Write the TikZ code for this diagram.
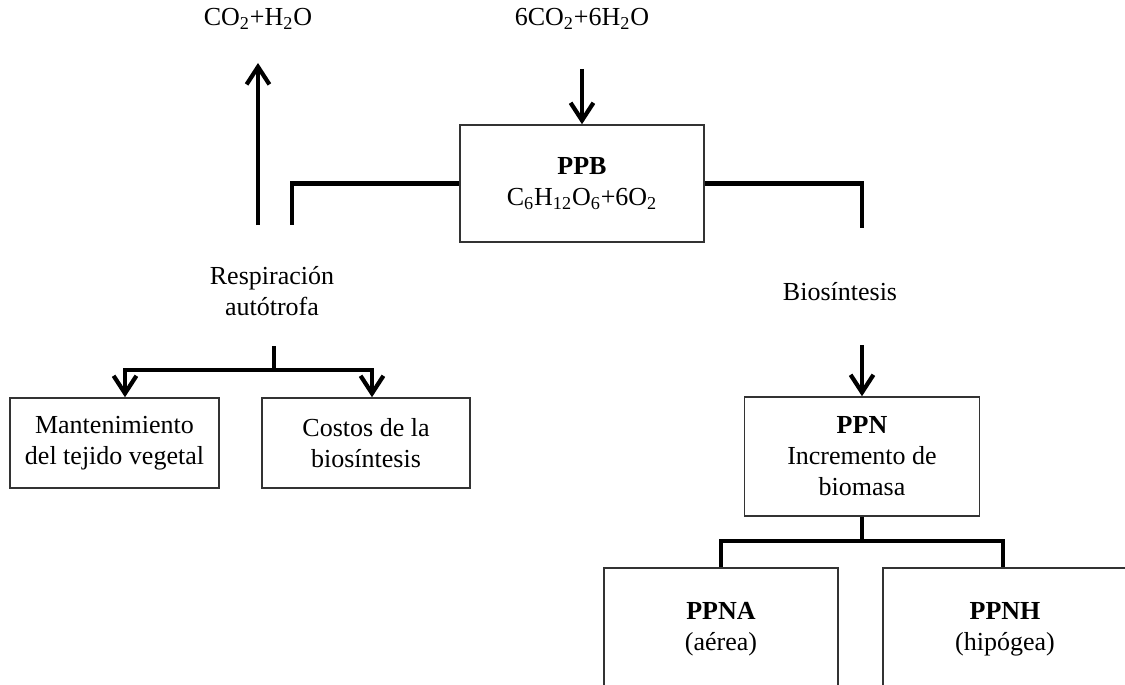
\documentclass[tikz,border=0pt]{standalone}
\usepackage{fontspec}
\setmainfont{Liberation Serif}
\usetikzlibrary{arrows.meta}

\tikzset{
	caja/.style={draw=black!80, line width=0.9pt, align=center, inner sep=0pt},
	texto/.style={align=center, inner sep=0pt},
	conector/.style={line width=2.8pt},
	flecha/.style={conector, -{Straight Barb[length=10pt, width=13pt, line width=2.4pt]}},
}

\begin{document}
\begin{tikzpicture}[x=0.02cm, y=-0.02cm, font=\fontsize{14.8}{17.6}\selectfont]
	\useasboundingbox (0,0) rectangle (1125,684);
	\clip (0,0) rectangle (1125,684);

	% textos libres
	\node[texto] (co2) at (258,19) {CO\textsubscript{2}+H\textsubscript{2}O};
	\node[texto] (entrada) at (582,19) {6CO\textsubscript{2}+6H\textsubscript{2}O};
	\node[texto] (resp) at (272,291) {Respiración\\autótrofa};
	\node[texto] (bios) at (840,292) {Biosíntesis};

	% cajas
	\node[caja, minimum width=4.88cm, minimum height=2.34cm] (ppb) at (582,183.5) {\textbf{PPB}\\C\textsubscript{6}H\textsubscript{12}O\textsubscript{6}+6O\textsubscript{2}};
	\node[caja, minimum width=4.18cm, minimum height=1.8cm] (mant) at (114.5,443) {Mantenimiento\\del tejido vegetal};
	\node[caja, minimum width=4.16cm, minimum height=1.8cm] (costos) at (366,443) {Costos de la\\biosíntesis};
	\node[caja, minimum width=4.7cm, minimum height=2.38cm] (ppn) at (862,456.5) {\textbf{PPN}\\Incremento de\\biomasa};
	\node[caja, minimum width=4.68cm, minimum height=2.44cm] (ppna) at (721,629) {\textbf{PPNA}\\(aérea)};
	\node[caja, minimum width=4.88cm, minimum height=2.44cm] (ppnh) at (1005,629) {\textbf{PPNH}\\(hipógea)};

	% puntos de quiebre
	\coordinate (pieR) at (258,225);
	\coordinate (codoR) at (292,225);
	\coordinate (codoB) at (862,228);
	\coordinate (talloB) at (862,345);
	\coordinate (talloR) at (274,346);
	\coordinate (ramaR) at (274,370);
	\coordinate (ramaB) at (862,541);

	% conectores
	\draw[flecha, shorten >=0.88cm] (pieR) -- (co2.center);
	\draw[flecha, shorten <=1cm] (entrada.center) -- (ppb.north);
	\draw[conector] (ppb.west) -| (codoR);
	\draw[conector] (ppb.east) -| (codoB);
	\draw[flecha] (talloB) -- (ppn.north);

	\draw[conector] (talloR) -- (ramaR);
	\draw[flecha] (ramaR) -| ([xshift=0.21cm]mant.north);
	\draw[flecha] (ramaR) -| ([xshift=0.12cm]costos.north);

	\draw[conector] (ppn.south) -- (ramaB);
	\draw[conector] (ramaB) -| (ppna.north);
	\draw[conector] (ramaB) -| ([xshift=-0.04cm]ppnh.north);

\end{tikzpicture}
\end{document}
